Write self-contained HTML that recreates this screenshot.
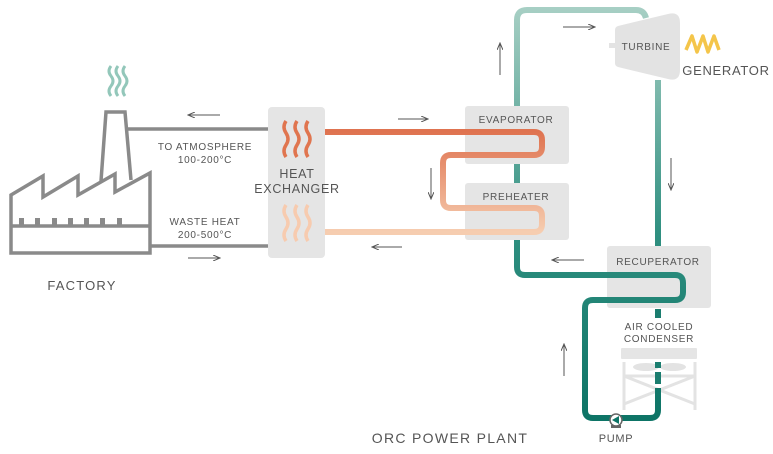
<!DOCTYPE html>
<html><head><meta charset="utf-8"><style>
body{margin:0;background:#fff;}
svg{display:block;}
text{font-family:"Liberation Sans",sans-serif;fill:#555;letter-spacing:0.7px;}
</style></head><body>
<svg width="773" height="454" viewBox="0 0 773 454" xmlns="http://www.w3.org/2000/svg">
<defs>
<linearGradient id="org" x1="0" y1="132" x2="0" y2="232" gradientUnits="userSpaceOnUse">
<stop offset="0" stop-color="#df7350"/><stop offset="1" stop-color="#f6cdb0"/></linearGradient>
<linearGradient id="teal" x1="0" y1="8" x2="0" y2="420" gradientUnits="userSpaceOnUse">
<stop offset="0" stop-color="#a7cfc4"/><stop offset="0.55" stop-color="#2f8f80"/><stop offset="1" stop-color="#0d7466"/></linearGradient>
<marker id="ah" markerWidth="8" markerHeight="6" refX="7" refY="3" orient="auto"><path d="M0,0 L7,3 L0,6" fill="none" stroke="#555" stroke-width="1"/></marker>
</defs>

<g fill="none" stroke="#93c7ba" stroke-width="3">
<path d="M111,66 q-4,5 0,10 q4,5 0,10 q-4,5 0,10"/>
<path d="M118,66 q-4,5 0,10 q4,5 0,10 q-4,5 0,10"/>
<path d="M125,66 q-4,5 0,10 q4,5 0,10 q-4,5 0,10"/>
</g>
<g fill="none" stroke="#8a8a8a" stroke-width="3.5" stroke-linejoin="miter">
<path d="M11,253 L11,195 L43,176 L43,197 L78,176 L78,195 L115,174 L115,192 L150,173 L150,253 Z"/>
<path d="M101,181 L106,112 L125,112 L131,180"/>
<line x1="11" y1="226" x2="150" y2="226"/>
<line x1="127" y1="129" x2="270" y2="129"/>
<line x1="150" y1="246" x2="270" y2="246"/>
</g>
<g fill="#8a8a8a">
<rect x="19" y="218" width="5" height="8"/><rect x="35" y="218" width="5" height="8"/><rect x="52" y="218" width="5" height="8"/><rect x="68" y="218" width="5" height="8"/><rect x="84" y="218" width="5" height="8"/><rect x="100" y="218" width="5" height="8"/><rect x="117" y="218" width="5" height="8"/>
</g>
<text x="205" y="150" font-size="10" text-anchor="middle">TO ATMOSPHERE</text>
<text x="205" y="163" font-size="10" text-anchor="middle">100-200°C</text>
<text x="205" y="225" font-size="10" text-anchor="middle">WASTE HEAT</text>
<text x="205" y="238" font-size="10" text-anchor="middle">200-500°C</text>
<text x="82" y="290" font-size="13" text-anchor="middle" style="letter-spacing:1.2px">FACTORY</text>
<text x="450" y="443" font-size="14" text-anchor="middle" style="letter-spacing:1.3px">ORC POWER PLANT</text>

<g stroke="#555" stroke-width="1" marker-end="url(#ah)">
<line x1="220" y1="115" x2="188" y2="115"/>
<line x1="188" y1="258" x2="220" y2="258"/>
<line x1="398" y1="119" x2="428" y2="119"/>
<line x1="431" y1="168" x2="431" y2="199"/>
<line x1="402" y1="247" x2="372" y2="247"/>
<line x1="500" y1="75" x2="500" y2="43"/>
<line x1="563" y1="27" x2="595" y2="27"/>
<line x1="671" y1="158" x2="671" y2="190"/>
<line x1="584" y1="260" x2="552" y2="260"/>
<line x1="564" y1="376" x2="564" y2="344"/>
</g>

<g fill="#e5e5e5">
<rect x="268" y="107" width="57" height="151" rx="4"/>
<rect x="465" y="106" width="104" height="58" rx="3"/>
<rect x="465" y="183" width="104" height="57" rx="3"/>
<rect x="607" y="246" width="104" height="62" rx="3"/>
<rect x="621" y="348" width="76" height="11" rx="1"/>
</g>
<g fill="none" stroke="#e3e3e3" stroke-width="3">
<line x1="624" y1="362" x2="624" y2="410"/><line x1="695" y1="362" x2="695" y2="410"/>
<line x1="624" y1="376" x2="695" y2="404"/><line x1="695" y1="376" x2="624" y2="404"/>
<line x1="624" y1="376" x2="695" y2="376"/>
</g>
<ellipse cx="646" cy="367" rx="13" ry="4" fill="#e3e3e3"/>
<ellipse cx="673" cy="367" rx="13" ry="4" fill="#e3e3e3"/>

<g fill="none" stroke-width="3.5">
<g stroke="#e0754f">
<path d="M286,121 q-4,6 0,12 q4,6 0,12 q-4,6 0,12"/>
<path d="M297,121 q-4,6 0,12 q4,6 0,12 q-4,6 0,12"/>
<path d="M308,121 q-4,6 0,12 q4,6 0,12 q-4,6 0,12"/>
</g>
<g stroke="#f7cbaf">
<path d="M286,205 q-4,6 0,12 q4,6 0,12 q-4,6 0,12"/>
<path d="M297,205 q-4,6 0,12 q4,6 0,12 q-4,6 0,12"/>
<path d="M308,205 q-4,6 0,12 q4,6 0,12 q-4,6 0,12"/>
</g>
</g>
<text x="297" y="178" font-size="12.5" text-anchor="middle">HEAT</text>
<text x="297" y="193" font-size="12.5" text-anchor="middle">EXCHANGER</text>

<path d="M325,132 L534,132 Q542,132 542,140 L542,147 Q542,155 534,155 L451,155 Q443,155 443,163 L443,200 Q443,208 451,208 L534,208 Q542,208 542,216 L542,224 Q542,232 534,232 L325,232" fill="none" stroke="url(#org)" stroke-width="6"/>

<path d="M517,106 L517,20 Q517,10 527,10 L636,10 Q644,10 646,18" fill="none" stroke="url(#teal)" stroke-width="6"/>
<path d="M517,164 L517,183 M517,240 L517,267 Q517,275 525,275 L675,275 Q683,275 683,283 L683,292 Q683,300 675,300 L593,300 Q585,300 585,308 L585,410 Q585,418 593,418 L650,418 Q658,418 658,410 L658,388" fill="none" stroke="url(#teal)" stroke-width="6"/>
<path d="M658,80 L658,246" fill="none" stroke="url(#teal)" stroke-width="6"/>
<g stroke="#1b7d6f" stroke-width="6">
<line x1="658" y1="309" x2="658" y2="318"/>
<line x1="658" y1="362" x2="658" y2="368"/>
<line x1="658" y1="372" x2="658" y2="384"/>
</g>
<text x="658" y="265" font-size="10" text-anchor="middle">RECUPERATOR</text>
<text x="516" y="123" font-size="10" text-anchor="middle">EVAPORATOR</text>
<text x="516" y="200" font-size="10" text-anchor="middle">PREHEATER</text>
<text x="659" y="330" font-size="10" text-anchor="middle">AIR COOLED</text>
<text x="659" y="342" font-size="10" text-anchor="middle">CONDENSER</text>

<rect x="611" y="425" width="10" height="3" fill="#666"/>
<circle cx="616" cy="420" r="6" fill="#fff" stroke="#666" stroke-width="1.5"/>
<path d="M612,420 L619,416 L619,424 Z" fill="#0d7466"/>
<text x="616" y="442" font-size="11" text-anchor="middle">PUMP</text>

<rect x="609" y="43" width="8" height="5" fill="#e3e3e3"/>
<path d="M615,30 Q615,27 618,26 L668,14 Q680,11 680,23 L680,70 Q680,82 668,79 L618,67 Q615,66 615,63 Z" fill="#e3e3e3"/>
<text x="646" y="50" font-size="10" text-anchor="middle">TURBINE</text>
<path d="M686,50 L692,36 L697,52 L703,36 L708,52 L714,36 L719,50" fill="none" stroke="#f4c54a" stroke-width="3.5" stroke-linejoin="round"/>
<text x="726" y="75" font-size="13" text-anchor="middle">GENERATOR</text>
</svg>
</body></html>
